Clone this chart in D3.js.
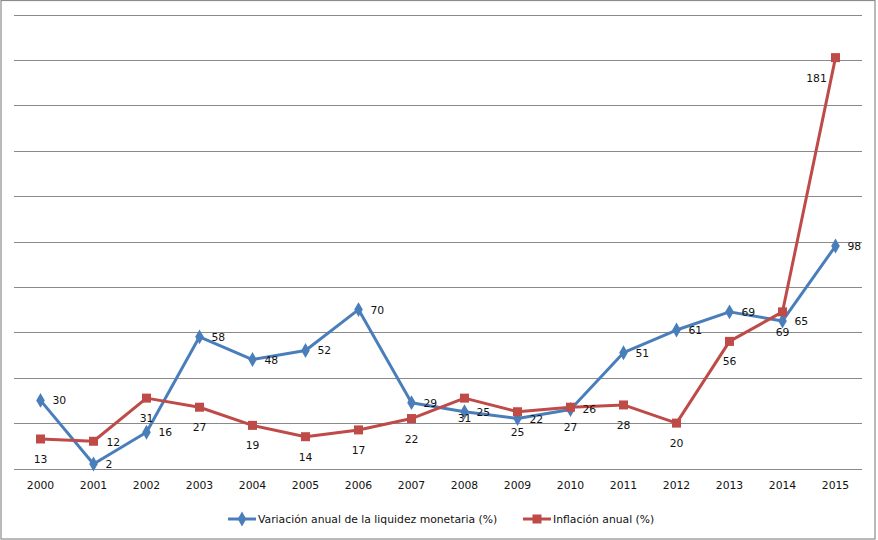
<!DOCTYPE html>
<html><head><meta charset="utf-8">
<script src="https://cdn.jsdelivr.net/npm/d3@7/dist/d3.min.js"></script>
<style>body{margin:0;background:#fff}text{font-family:"DejaVu Sans",Verdana,sans-serif}</style>
</head><body><svg id="c" width="878" height="540"></svg>
<script>
const years = ["2000","2001","2002","2003","2004","2005","2006","2007","2008","2009","2010","2011","2012","2013","2014","2015"];
const liquidez = [30,2,16,58,48,52,70,29,25,22,26,51,61,69,65,98];
const inflacion = [13,12,31,27,19,14,17,22,31,25,27,28,20,56,69,181];
const seriesNames = ["Variación anual de la liquidez monetaria (%)","Inflación anual (%)"];
const yTicks = [0,20,40,60,80,100,120,140,160,180,200];

const svg = d3.select("#c");
const L=14,R=862,T=14.5,B=468.5;
const FS="10.8px";
svg.append("rect").attr("x",1).attr("y",0.5).attr("width",874).attr("height",538.5).attr("fill","#fff").attr("stroke","#8c8c8c").attr("stroke-width",1.2);

const x = d3.scaleBand().domain(years).range([L,R]);
const y = d3.scaleLinear().domain([0,200]).range([B,T]);
const cx = d => x(d)+x.bandwidth()/2;

svg.append("g").selectAll("line").data(yTicks).join("line")
  .attr("x1",L).attr("x2",R).attr("y1",d=>Math.round(y(d))+0.5).attr("y2",d=>Math.round(y(d))+0.5)
  .attr("stroke","#8a8a8a").attr("stroke-width",1);

const xa = svg.append("g").attr("transform",`translate(0,${B})`).call(d3.axisBottom(x).tickSize(0).tickPadding(13));
xa.select(".domain").remove();
xa.selectAll("text").attr("font-size",FS).attr("fill","#111").style("font-family","DejaVu Sans, Verdana, sans-serif");

const blue="#4a7ebb", red="#be4b48";
const line = d3.line().x((d,i)=>cx(years[i])).y(d=>y(d));

svg.append("path").datum(liquidez).attr("d",line).attr("fill","none").attr("stroke",blue).attr("stroke-width",3).attr("stroke-linejoin","round");
svg.append("path").datum(inflacion).attr("d",line).attr("fill","none").attr("stroke",red).attr("stroke-width",3).attr("stroke-linejoin","round");

const diamond = d3.symbol().type(d3.symbolDiamond).size(64);
svg.append("g").selectAll("path").data(liquidez).join("path")
  .attr("d",diamond).attr("transform",(d,i)=>`translate(${cx(years[i])},${y(d)})`).attr("fill",blue);
svg.append("g").selectAll("rect").data(inflacion).join("rect")
  .attr("x",(d,i)=>cx(years[i])-4.5).attr("y",d=>y(d)-4.5).attr("width",9).attr("height",9).attr("fill",red);

svg.append("g").selectAll("text").data(liquidez).join("text")
  .attr("x",(d,i)=>cx(years[i])+12).attr("y",d=>y(d)+4).attr("font-size",FS).attr("fill","#111")
  .text(d=>d);
svg.append("g").selectAll("text").data(inflacion).join("text")
  .attr("x",(d,i)=> i===1 ? cx(years[i])+13 : (i===years.length-1 ? cx(years[i])-19 : cx(years[i])))
  .attr("y",(d,i)=> i===1 ? y(d)+5 : y(d)+24)
  .attr("text-anchor",(d,i)=> i===1 ? "start" : "middle")
  .attr("font-size",FS).attr("fill","#111")
  .text(d=>d);

const lg = svg.append("g").attr("transform","translate(0,519)");
const items=[{n:seriesNames[0],c:blue,s:"d",x0:228},{n:seriesNames[1],c:red,s:"s",x0:523}];
items.forEach(it=>{
  lg.append("line").attr("x1",it.x0).attr("x2",it.x0+28).attr("y1",0).attr("y2",0).attr("stroke",it.c).attr("stroke-width",3);
  if(it.s==="d") lg.append("path").attr("d",diamond).attr("transform",`translate(${it.x0+14},0)`).attr("fill",it.c);
  else lg.append("rect").attr("x",it.x0+9.5).attr("y",-4.5).attr("width",9).attr("height",9).attr("fill",it.c);
  lg.append("text").attr("x",it.x0+30).attr("y",4).attr("font-size",FS).attr("fill","#111").text(it.n);
});
</script></body></html>
